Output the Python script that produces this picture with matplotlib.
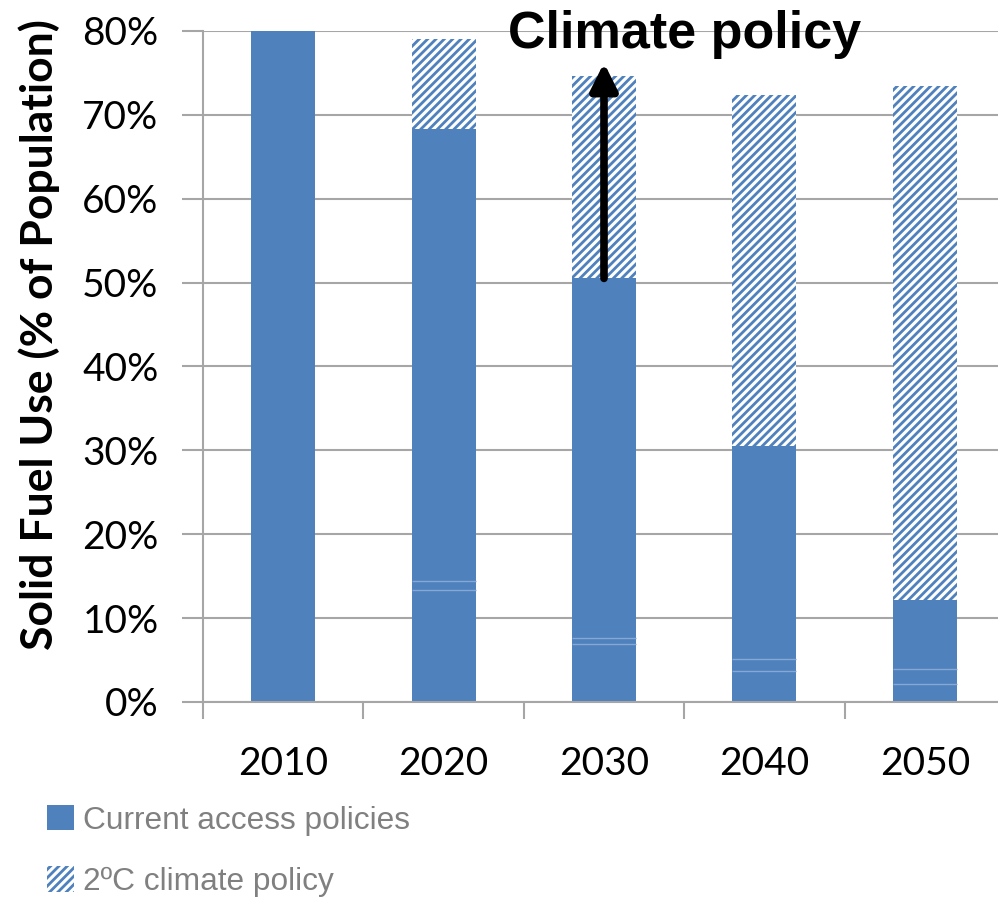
import matplotlib.pyplot as plt
import numpy as np
from matplotlib.patches import Patch
from matplotlib.ticker import FixedLocator

# Solid fuel use, % of population
years = ["2010", "2020", "2030", "2040", "2050"]
current_access = [80.0, 68.3, 50.5, 30.5, 12.2]
climate_total = [80.0, 79.1, 74.6, 72.4, 73.4]
climate_extra = [t - c for t, c in zip(climate_total, current_access)]

# faint seams left inside the solid bars by overlapping series
seam_years = [1, 1, 2, 2, 3, 3, 4, 4]
seam_levels = [13.3, 14.4, 6.9, 7.6, 3.7, 5.1, 2.2, 3.9]

blue = "#4F81BD"
grid_grey = "#A6A6A6"

plt.rcParams['hatch.linewidth'] = 2.0
plt.rcParams['hatch.color'] = blue

fig = plt.figure(figsize=(9.98, 8.98), dpi=100)
ax = fig.add_axes([0.2034, 0.2183, 0.8036, 0.7472])

x = np.arange(len(years))
width = 0.4
ax.bar(x, current_access, width, color=blue, linewidth=0, zorder=2)
ax.bar(x, climate_extra, width, bottom=current_access, color="white",
       edgecolor=blue, hatch="////", linewidth=0, zorder=2)

for xi, lvl in zip(seam_years, seam_levels):
    ax.hlines(lvl, x[xi] - width / 2, x[xi] + width / 2, color="#86A8D6",
              linewidth=1, zorder=3)

ax.set_xlim(-0.5, 4.5)
ax.set_ylim(0, 80)
ax.set_yticks(np.arange(0, 81, 10))
ax.set_yticklabels([f"{v}%" for v in range(0, 81, 10)],
                   fontsize=28, family="Lato")
ax.set_xticks(x)
ax.set_xticklabels(years, fontsize=28, family="Lato")
ax.xaxis.set_minor_locator(FixedLocator(np.arange(-0.5, 4.6, 1)))
ax.tick_params(axis="x", which="major", length=0, pad=32)
ax.tick_params(axis="x", which="minor", length=12, color=grid_grey, width=1.5)
ax.tick_params(axis="y", length=15, color=grid_grey, width=1.5, pad=17)

ax.yaxis.grid(True, color=grid_grey, linewidth=1.5, zorder=0)
ax.set_axisbelow(True)
for side in ["top", "right"]:
    ax.spines[side].set_visible(False)
for side in ["left", "bottom"]:
    ax.spines[side].set_color(grid_grey)
    ax.spines[side].set_linewidth(1.5)

ax.set_ylabel("Solid Fuel Use (% of Population)", fontsize=32,
              fontweight="bold", family="Lato")
ax.yaxis.set_label_coords(-0.1785, 0.548)

# arrow showing the shift under the climate policy
ax.annotate("", xy=(x[2], 76.2), xytext=(x[2], current_access[2]),
            arrowprops=dict(arrowstyle="-|>,head_width=0.8,head_length=1.6",
                            color="black", linewidth=5.5, shrinkA=0, shrinkB=0),
            zorder=5)
fig.text(0.686, 0.962, "Climate policy", fontsize=37.5, fontweight="bold",
         family="Liberation Sans", ha="center", va="center")

handles = [Patch(facecolor=blue, linewidth=0),
           Patch(facecolor="white", edgecolor=blue, hatch="////", linewidth=0)]
fig.legend(handles, ["Current access policies", "2ºC climate policy"],
           loc="upper left", bbox_to_anchor=(0.047, 0.1035), frameon=False,
           prop={"family": "Liberation Sans", "size": 22.8},
           labelcolor="#808080", handlelength=0.85, handleheight=0.85,
           handletextpad=0.3, labelspacing=0.97, borderpad=0,
           borderaxespad=0)

plt.savefig("out.png", dpi=100)
